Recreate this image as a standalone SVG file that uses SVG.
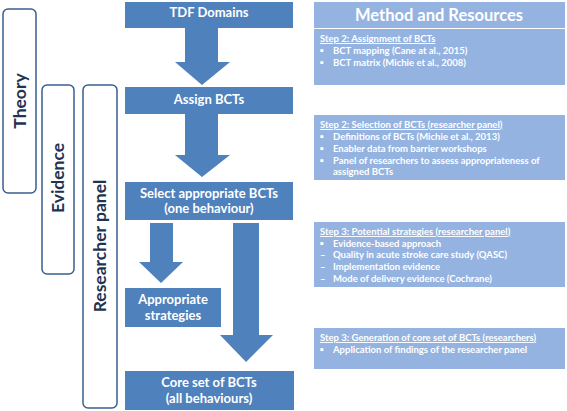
<svg xmlns="http://www.w3.org/2000/svg" width="567" height="411" viewBox="0 0 567 411">
<style>
.box{fill:#4F81BD}
.arrow{fill:#4F81BD}
.panel{fill:#95B3E0}
.outline{fill:#FFFFFF;stroke:#3A5F8F;stroke-width:1.5}
.bt{font-family:Lato,"Liberation Sans",sans-serif;font-weight:bold;font-size:13px;fill:#FFFFFF;text-anchor:middle}
.vt{font-family:Lato,"Liberation Sans",sans-serif;font-weight:bold;font-size:17.5px;fill:#1F3352;text-anchor:middle}
.pt{font-family:Lato,"Liberation Sans",sans-serif;font-weight:bold;font-size:9.5px;fill:#FFFFFF}
.hd{font-family:Lato,"Liberation Sans",sans-serif;font-weight:bold;font-size:16.5px;fill:#FFFFFF;text-anchor:middle}
</style>
<rect width="567" height="411" fill="#FFFFFF"/>
<g id="theory">
<rect class="outline" x="3" y="9" width="33" height="184" rx="5"/>
<text class="vt" transform="translate(26,101) rotate(-90)">Theory</text>
</g>
<g id="evidence">
<rect class="outline" x="42" y="85" width="32" height="189" rx="5"/>
<text class="vt" transform="translate(64,178) rotate(-90)">Evidence</text>
</g>
<g id="researcher-panel">
<rect class="outline" x="83" y="85" width="34" height="323" rx="5"/>
<text class="vt" transform="translate(106,246) rotate(-90)">Researcher panel</text>
</g>
<g id="connectors">
<polygon class="arrow" points="185,28 218,28 218,62 230,62 202,85 175,62 185,62"/>
<polygon class="arrow" points="185,114 218,114 218,155 230,155 202,177 175,155 185,155"/>
<polygon class="arrow" points="150,223 173,223 173,262 183,262 161,283 139,262 150,262"/>
<polygon class="arrow" points="233,223 259,223 259,335 273,335 246,362 220,335 233,335"/>
</g>
<g id="tdf-domains">
<rect class="box" x="125" y="2" width="168" height="26"/>
<text class="bt" x="209" y="17">TDF Domains</text>
</g>
<g id="assign-bcts">
<rect class="box" x="125" y="87" width="168" height="27"/>
<text class="bt" x="209" y="104">Assign BCTs</text>
</g>
<g id="select-bcts">
<rect class="box" x="125" y="182" width="168" height="38"/>
<text class="bt" x="209" y="198">Select appropriate BCTs</text>
<text class="bt" x="209" y="213">(one behaviour)</text>
</g>
<g id="appropriate-strategies">
<rect class="box" x="125" y="288" width="96" height="39"/>
<text class="bt" x="173" y="304">Appropriate</text>
<text class="bt" x="173" y="320">strategies</text>
</g>
<g id="core-set">
<rect class="box" x="125" y="371" width="169" height="39"/>
<text class="bt" x="209" y="387">Core set of BCTs</text>
<text class="bt" x="209" y="403">(all behaviours)</text>
</g>
<g id="method-header">
<rect class="panel" x="314" y="2" width="251" height="26"/>
<text class="hd" x="439" y="21">Method and Resources</text>
</g>
<g id="panel-1">
<rect class="panel" x="314" y="29" width="251" height="56"/>
<text class="pt" x="320" y="42" text-decoration="underline">Step 2: Assignment of BCTs</text>
<text class="pt" x="320" y="54">▪</text><text class="pt" x="333" y="54">BCT mapping (Cane at al., 2015)</text>
<text class="pt" x="320" y="66">▪</text><text class="pt" x="333" y="66">BCT matrix (Michie et al., 2008)</text>
</g>
<g id="panel-2">
<rect class="panel" x="314" y="115" width="251" height="65"/>
<text class="pt" x="320" y="128" text-decoration="underline">Step 2: Selection of BCTs (researcher panel)</text>
<text class="pt" x="320" y="140">▪</text><text class="pt" x="333" y="140">Definitions of BCTs (Michie et al., 2013)</text>
<text class="pt" x="320" y="152">▪</text><text class="pt" x="333" y="152">Enabler data from barrier workshops</text>
<text class="pt" x="320" y="164">▪</text><text class="pt" x="333" y="164">Panel of researchers to assess appropriateness of</text>
<text class="pt" x="333" y="175">assigned BCTs</text>
</g>
<g id="panel-3">
<rect class="panel" x="314" y="222" width="251" height="65"/>
<text class="pt" x="320" y="235" text-decoration="underline">Step 3: Potential strategies (researcher panel)</text>
<text class="pt" x="320" y="247">▪</text><text class="pt" x="333" y="247">Evidence-based approach</text>
<text class="pt" x="320" y="258">–</text><text class="pt" x="333" y="258">Quality in acute stroke care study (QASC)</text>
<text class="pt" x="320" y="270">–</text><text class="pt" x="333" y="270">Implementation evidence</text>
<text class="pt" x="320" y="282">–</text><text class="pt" x="333" y="282">Mode of delivery evidence (Cochrane)</text>
</g>
<g id="panel-4">
<rect class="panel" x="314" y="328" width="251" height="41"/>
<text class="pt" x="320" y="341" text-decoration="underline">Step 3: Generation of core set of BCTs (researchers)</text>
<text class="pt" x="320" y="353">▪</text><text class="pt" x="333" y="353">Application of findings of the researcher panel</text>
</g>
</svg>
